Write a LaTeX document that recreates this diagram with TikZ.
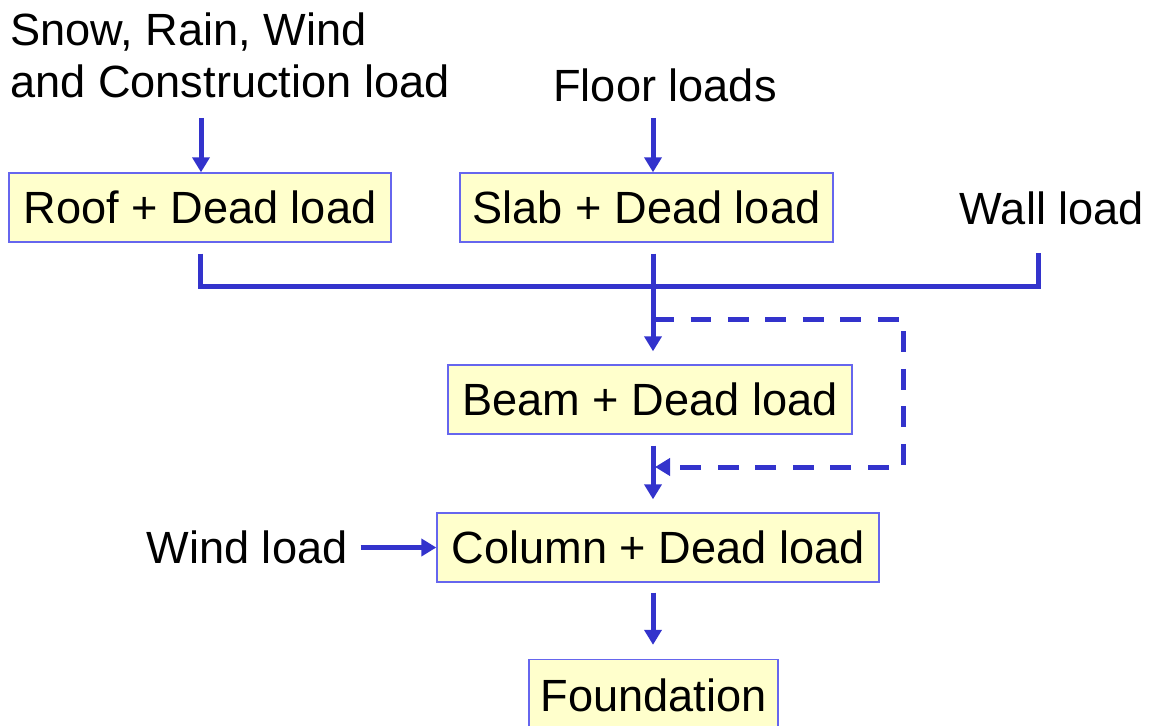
\documentclass[tikz,border=0pt]{standalone}
\usepackage{fontspec}
\setmainfont{Liberation Sans}
\usetikzlibrary{arrows.meta}
\definecolor{lc}{HTML}{3333CC}
\definecolor{bline}{HTML}{6666EE}
\definecolor{bfill}{HTML}{FFFFCC}
\begin{document}
\begin{tikzpicture}[x=0.02cm,y=-0.02cm,
  every node/.style={font=\fontsize{25.7pt}{29.6pt}\selectfont},
  box/.style={draw=bline, fill=bfill, line width=0.8pt, minimum height=1.38cm, inner sep=0pt},
  lbl/.style={inner sep=0pt},
  conn/.style={draw=lc, line width=0.1cm},
  arr/.style={conn, -{Triangle[width=0.34cm,length=0.3cm]}},
  darr/.style={arr, dash pattern=on 0.42cm off 0.33cm}]
\useasboundingbox (0,0) rectangle (1152,726);
% texts
\node[lbl, anchor=west, align=left] (snow) at (10,55) {Snow, Rain, Wind\\and Construction load};
\node[lbl] (floor) at (665,85) {Floor loads};
\node[lbl] (wall) at (1052,208) {Wall load};
\node[lbl] (wind) at (247,547.5) {Wind load};
% boxes
\node[box, minimum width=7.64cm] (roof) at (200,207.5) {Roof + Dead load};
\node[box, minimum width=7.46cm] (slab) at (646.5,207.5) {Slab + Dead load};
\node[box, minimum width=8.08cm] (beam) at (650,399.5) {Beam + Dead load};
\node[box, minimum width=8.84cm] (column) at (658,547.5) {Column + Dead load};
\node[box, minimum width=4.98cm, minimum height=1.42cm] (found) at (653.5,695) {Foundation};
% coordinates
\coordinate (s1) at (201,118);
\coordinate (f1) at (653,118);
\coordinate (sp) at (653,0);
\coordinate (bus) at (653,286);
\coordinate (w1) at (1038,253);
\coordinate (d1) at (653,319);
\coordinate (d2) at (903,467);
% connectors
\draw[arr] (s1) -- (s1 |- roof.north);
\draw[arr] (f1) -- (f1 |- slab.north);
\draw[conn] ([yshift=-0.22cm]roof.south) -- (roof.south |- bus) -- (w1 |- bus) -- (w1);
\draw[arr, shorten <=0.22cm, shorten >=0.26cm] (sp |- slab.south) -- (sp |- beam.north);
\draw[darr] (d1) -- (d1 -| d2) -- (d2) -- ([xshift=0.04cm]sp |- d2);
\draw[arr, shorten <=0.22cm, shorten >=0.26cm] (sp |- beam.south) -- (sp |- column.north);
\draw[arr, shorten <=0.2cm, shorten >=0.28cm] (sp |- column.south) -- (sp |- found.north);
\draw[arr, shorten <=0.26cm] (wind.east |- column.west) -- (column.west);
\end{tikzpicture}
\end{document}
